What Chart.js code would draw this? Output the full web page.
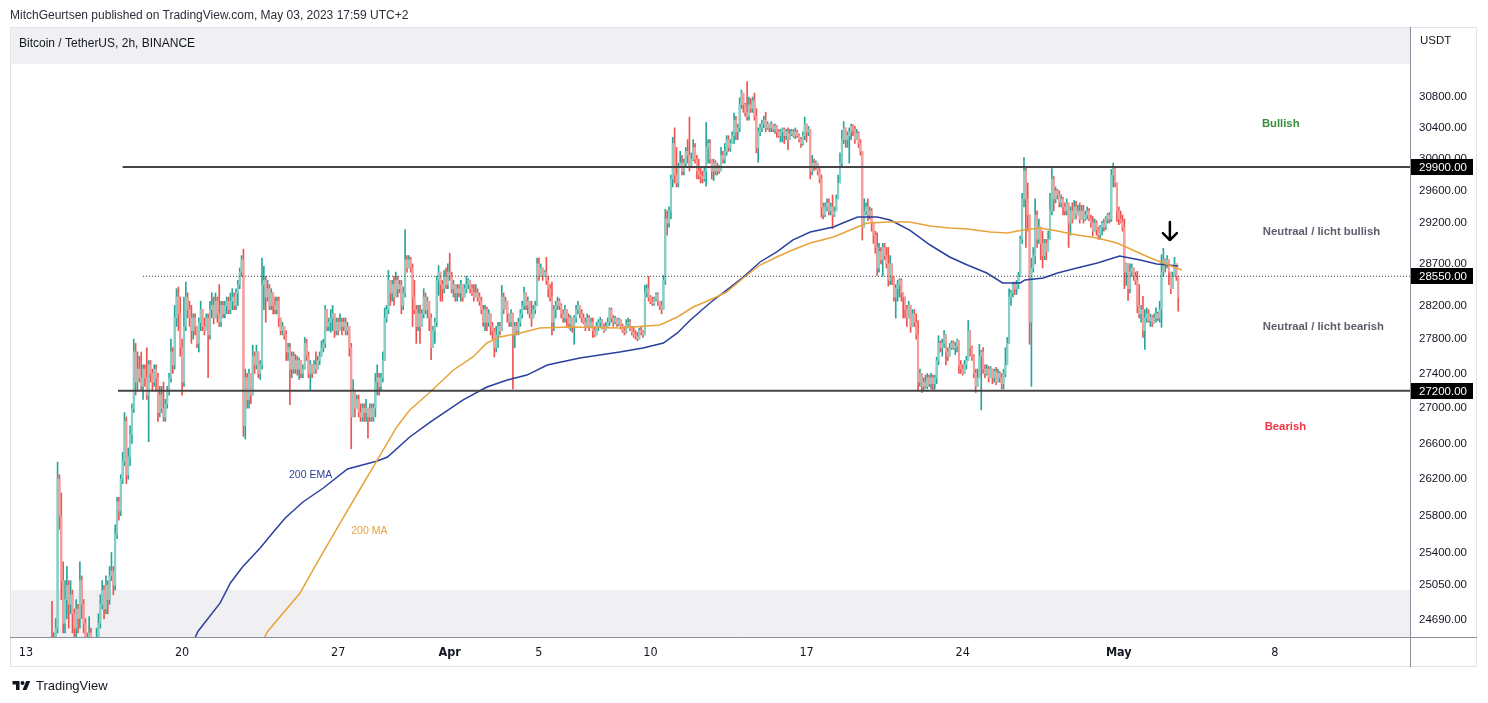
<!DOCTYPE html>
<html>
<head>
<meta charset="utf-8">
<title>BTCUSDT 2h</title>
<script src="https://cdn.jsdelivr.net/npm/chart.js@4.4.1/dist/chart.umd.min.js"></script>
<style>
  html, body { margin: 0; padding: 0; background: #fff; }
  body { width: 1488px; height: 703px; position: relative; overflow: hidden; font-family: "Liberation Sans", Arial, sans-serif; color: #131722; }
  #chart { position: absolute; left: 0; top: 0; }
  #published { position: absolute; left: 10px; top: 7px; font-size: 12px; line-height: 16px; color: #2a2e39; white-space: nowrap; }
  #brand { position: absolute; left: 12px; top: 677px; height: 16px; display: flex; align-items: center; font-size: 13px; color: #131722; }
  #brand svg { margin-right: 5px; }
</style>
</head>
<body>
<canvas id="chart" width="1488" height="703"></canvas>
<div id="published">MitchGeurtsen published on TradingView.com, May 03, 2023 17:59 UTC+2</div>
<div id="brand"><svg width="19" height="13" viewBox="0 0 36 26"><path d="M14 22H7V11H0V4h14v18zM28 22h-8l7.5-18h8L28 22z" fill="#131722"/><circle cx="20" cy="8" r="4" fill="#131722"/></svg>TradingView</div>
<script>
// time axis in hours since Mar 13 00:00
const tickHours = [0, 168, 336, 456, 552, 672, 840, 1008, 1176, 1344];
const tickLabels = ["13", "20", "27", "Apr", "5", "10", "17", "24", "May", "8"];
const boldLabels = ["Apr", "May"];
const priceTicks = [24690, 25050, 25400, 25800, 26200, 26600, 27000, 27400, 27800, 28200, 28700, 29200, 29600, 30000, 30400, 30800];

const xMinHour = -17.2;
const xMaxHour = 1489.4;
const priceMin = 24508;
const priceMax = 31726;

// 2h candles, first one Mar 14 00:00, open of each = close of the one before
const firstHour = 24;
const stepHours = 2;
const firstOpen = 24150;
const closes = [
  24250,24350,24250,24400,24600,26200,25800,25100,24650,24900,
  25050,24850,24950,24750,24600,24800,24700,25100,24850,24650,
  24450,24300,24550,24400,24250,24350,24500,24650,24850,25000,
  24800,25050,24900,25150,25200,25050,25600,25950,25850,26200,
  26400,26850,26250,26450,26700,27000,27650,27300,27450,27350,
  27250,27450,27350,27150,27500,27400,27300,27450,27350,26950,
  27150,27000,26900,27050,27200,27350,27650,27500,28050,28300,
  28100,27700,27300,27950,28300,28150,28050,27900,28050,27950,
  27750,28000,28150,27950,27900,28050,27850,28150,28200,28050,
  28250,28100,28000,28200,28100,28200,28250,28150,28250,28300,
  28200,28350,28450,28600,28750,26800,27350,27100,27400,27150,
  27600,27500,27650,27400,27500,28450,28500,28300,28400,28200,
  28350,28200,28150,28250,28050,27900,27950,27850,27650,27700,
  27450,27600,27450,27550,27450,27550,27400,27450,27750,27600,
  27400,27500,27400,27500,27450,27550,27600,27700,27750,28150,
  27950,28000,28050,28100,27900,28000,27900,28000,27950,28000,
  27900,27950,27700,26900,27200,27000,27100,26950,26900,27000,
  26950,27000,26900,27000,26900,27000,27300,27350,27250,27350,
  27550,28050,28150,28500,28350,28450,28300,28500,28400,28450,
  28200,28350,28750,28650,28750,28650,28300,28150,27950,28100,
  27950,28100,28300,28150,28250,28050,27700,27900,28000,28500,
  28600,28450,28400,28550,28450,28600,28550,28400,28450,28350,
  28400,28350,28450,28300,28400,28450,28500,28400,28350,28300,
  28350,28300,28250,28150,28000,28150,28000,28100,27950,27900,
  27700,27850,27950,27900,28300,28150,28250,28100,28000,28100,
  27850,27950,27900,28000,28100,28200,28350,28200,28250,28100,
  28050,28150,28200,28700,28550,28650,28550,28600,28500,28400,
  28300,28000,28150,28200,28250,28200,28100,28050,28150,28050,
  27980,28050,27950,28050,28150,28200,28100,28050,28000,27950,
  28050,27950,28000,27900,27850,27950,28000,28020,27950,27900,
  27950,28000,28150,28050,28000,28050,27980,28030,27950,27900,
  27880,27980,28000,27930,27880,27850,27830,27800,27900,27880,
  27850,28350,28400,28300,28250,28220,28280,28330,28250,28200,
  28150,28500,29250,29200,29350,29750,30200,29800,29700,29900,
  29950,29850,29950,30100,30050,29900,30000,30150,30000,29850,
  29800,29780,29750,29850,30150,30200,30000,29850,29950,29850,
  29900,29850,30050,30000,30100,30250,30150,30200,30300,30500,
  30350,30400,30700,30850,30700,30600,30550,30700,30650,30750,
  30550,30150,30350,30400,30450,30500,30400,30450,30400,30450,
  30380,30420,30350,30300,30350,30380,30300,30350,30250,30320,
  30350,30300,30350,30300,30250,30200,30300,30450,30350,30380,
  29850,29950,29900,29950,29850,29750,29400,29300,29400,29450,
  29350,29400,29300,29350,29500,29700,29950,30250,30400,30250,
  30300,30350,30420,30380,30250,30330,30200,30100,29150,29350,
  29400,29300,29350,29200,29050,28900,28650,28850,28750,28900,
  28800,28700,28500,28700,28550,28300,28400,28450,28500,28350,
  28300,28150,28050,28200,27950,28100,28000,27850,27300,27400,
  27250,27300,27250,27350,27280,27350,27280,27350,27550,27750,
  27700,27750,27850,27650,27600,27700,27750,27700,27720,27780,
  27500,27450,27400,27500,27550,27900,27700,27600,27400,27250,
  27350,27600,27650,27450,27400,27450,27350,27450,27350,27420,
  27300,27400,27350,27280,27400,27500,27750,28300,28350,28450,
  28400,28450,28550,29000,29500,29850,29500,29300,28000,28650,
  28800,29300,29000,29150,28950,28800,28950,28850,29000,29350,
  29750,29500,29600,29550,29450,29500,29400,29350,29450,29200,
  29350,29250,29400,29300,29350,29250,29350,29250,29300,29350,
  29250,29200,29100,29200,29120,29050,29150,29200,29150,29250,
  29300,29250,29800,29880,29700,29350,29250,29220,29150,28600,
  28700,28400,28600,28650,28550,28500,28200,28100,28150,27900,
  28050,28100,28020,28060,27990,28050,28100,28050,28150,28600,
  28750,28700,28750,28600,28400,28550,28700,28550,28300
];
const highs = [
  24400,24450,24880,24550,24700,26390,26250,26050,25300,25100,
  25250,25100,25100,25000,24800,24900,24850,25300,25150,24900,
  24700,24550,24720,24600,24450,24500,24600,24750,24950,25100,
  25050,25150,25100,25250,25400,25250,25700,26000,26000,26250,
  26500,26950,26900,26550,26800,27050,27800,27750,27650,27600,
  27650,27500,27500,27700,27550,27550,27450,27500,27500,27400,
  27250,27250,27300,27100,27250,27400,27800,27700,28200,28400,
  28420,28300,27800,28300,28480,28350,28250,28200,28100,28100,
  27950,28050,28250,28150,28050,28100,28100,28250,28350,28300,
  28350,28300,28450,28250,28250,28250,28300,28300,28350,28400,
  28350,28400,28500,28650,28800,28880,27450,27400,27450,27400,
  27730,27650,27730,27650,27550,28770,28670,28550,28500,28450,
  28400,28350,28300,28300,28300,28050,28000,27950,27900,27750,
  27750,27650,27650,27620,27600,27580,27550,27500,27820,27800,
  27650,27550,27500,27550,27650,27600,27650,27780,27800,28200,
  28100,28050,28150,28200,28100,28050,28050,28100,28050,28050,
  28050,28000,27950,27750,27330,27200,27150,27150,27050,27050,
  27050,27100,27000,27050,27050,27050,27400,27500,27400,27400,
  27650,28170,28200,28620,28500,28500,28550,28600,28550,28500,
  28500,28420,29120,28800,28800,28780,28700,28500,28200,28200,
  28200,28150,28400,28350,28300,28250,28100,27950,28050,28550,
  28680,28600,28500,28620,28650,28700,28830,28600,28500,28450,
  28450,28450,28500,28450,28450,28550,28520,28500,28450,28450,
  28450,28400,28350,28300,28200,28200,28180,28150,28100,28000,
  27930,27950,28000,28000,28440,28350,28300,28250,28100,28150,
  28110,28000,28000,28050,28150,28250,28420,28350,28300,28250,
  28250,28200,28250,28770,28770,28700,28650,28620,28780,28550,
  28450,28480,28200,28250,28300,28280,28220,28150,28200,28150,
  28100,28080,28050,28080,28200,28250,28200,28150,28100,28050,
  28100,28080,28050,28050,27950,28000,28030,28060,28030,27980,
  28000,28050,28170,28170,28080,28070,28050,28050,28030,27980,
  27950,28030,28050,28030,27950,27950,27900,27880,27930,27950,
  27900,28440,28450,28550,28320,28300,28300,28350,28350,28250,
  28250,28560,29370,29350,29400,29800,30280,30400,30150,29950,
  30100,30050,30000,30150,30250,30540,30080,30250,30200,30050,
  30000,29900,29850,29900,30470,30250,30250,30000,30000,29980,
  29950,29920,30150,30100,30200,30300,30300,30250,30350,30590,
  30550,30450,30790,30890,30850,30720,31000,30800,30780,30800,
  30850,30650,30400,30450,30500,30550,30600,30480,30450,30480,
  30450,30450,30430,30380,30380,30400,30400,30380,30400,30380,
  30380,30380,30400,30370,30320,30280,30350,30540,30450,30420,
  30350,30050,30000,29980,29950,29880,29800,29450,29450,29500,
  29500,29450,29550,29400,29550,29800,30080,30370,30480,30400,
  30350,30400,30450,30440,30420,30380,30350,30250,30100,29500,
  29450,29500,29400,29380,29150,29100,29080,28950,28900,28950,
  28950,28900,28900,28800,28650,28550,28450,28500,28520,28520,
  28350,28300,28200,28250,28170,28150,28150,28100,28020,27450,
  27400,27350,27380,27400,27380,27400,27380,27380,27590,27840,
  27780,27800,27900,27850,27700,27750,27780,27780,27760,27800,
  27780,27550,27500,27550,27600,28020,27900,27720,27620,27450,
  27450,27740,27670,27700,27500,27500,27480,27480,27450,27450,
  27470,27450,27420,27400,27450,27700,27820,28400,28380,28480,
  28480,28500,28600,29040,29570,30020,29890,29700,29210,28770,
  28900,29500,29350,29250,29150,29100,29000,29000,29100,29570,
  29880,29780,29650,29620,29600,29550,29520,29450,29500,29400,
  29400,29450,29480,29470,29420,29450,29420,29420,29350,29400,
  29380,29300,29280,29250,29230,29150,29170,29220,29250,29280,
  29320,29330,29870,29950,29900,29700,29400,29350,29300,29250,
  28710,28690,28700,28700,28650,28600,28610,28450,28200,28310,
  28150,28170,28150,28100,28080,28100,28170,28120,28250,28810,
  28890,28760,28800,28750,28600,28600,28780,28700,28550
];
const lows = [
  24100,24200,24150,24200,24350,24550,25650,24900,24550,24550,
  24700,24600,24750,24550,24450,24500,24550,24600,24700,24550,
  24300,24150,24250,24200,24050,24150,24250,24400,24600,24800,
  24700,24750,24750,24850,25100,24950,25000,25550,25750,25800,
  26150,26350,26150,26200,26350,26600,26950,27150,27200,27300,
  27200,27100,27250,27100,26620,27300,27200,27250,27200,26850,
  26900,26950,26850,26850,27000,27150,27300,27400,27450,27950,
  27900,27600,27150,27250,27900,28050,27950,27750,27800,27850,
  27700,27650,27900,27900,27850,27900,27350,27800,28050,27980,
  28100,28000,27950,27950,28050,28050,28100,28100,28100,28150,
  28150,28150,28200,28400,28550,26680,26650,27000,27000,27050,
  27200,27400,27450,27350,27330,27450,28150,28000,28250,28150,
  28150,28100,28100,28100,27950,27850,27850,27800,27550,27550,
  27040,27350,27400,27400,27380,27330,27350,27350,27450,27550,
  27350,27200,27350,27400,27400,27450,27500,27600,27650,27700,
  27900,27900,27880,27900,27820,27850,27850,27900,27850,27900,
  27850,27850,27600,26540,26900,26900,27000,26900,26850,26850,
  26850,26850,26660,26850,26850,26850,26900,27150,27150,27200,
  27300,27550,28000,28100,28200,28250,28200,28300,28300,28350,
  28100,28150,28300,28600,28650,28600,27950,28100,27750,27900,
  27750,27950,28050,28100,28050,27900,27560,27700,27750,27950,
  28320,28250,28250,28350,28400,28400,28500,28350,28300,28250,
  28250,28300,28250,28250,28300,28350,28400,28350,28320,28250,
  28300,28250,28200,28100,27950,27900,27900,27950,27850,27800,
  27590,27650,27700,27850,27900,28100,28150,28000,27950,27950,
  27220,27700,27850,27850,27950,28050,28150,28150,28100,28050,
  27950,28050,28100,28200,28500,28550,28500,28550,28450,28300,
  28250,27850,27900,28050,28150,28150,28050,28000,28000,27950,
  27930,27900,27880,27740,28000,28100,28050,28000,27980,27900,
  27950,27900,27950,27820,27830,27850,27900,27950,27920,27880,
  27900,27950,27960,28000,27950,27980,27950,27960,27920,27880,
  27850,27870,27950,27900,27850,27820,27800,27780,27800,27850,
  27820,27850,28300,28250,28220,28200,28200,28250,28200,28150,
  28100,28150,28450,29050,29150,29250,29650,29700,29650,29650,
  29900,29800,29800,29900,29950,29850,29900,29980,29950,29750,
  29750,29700,29700,29720,29660,29950,29950,29750,29730,29800,
  29800,29820,29850,29950,29950,30050,30100,30100,30200,30200,
  30250,30250,30350,30650,30600,30550,30500,30500,30600,30600,
  30500,30080,29960,30300,30350,30400,30350,30380,30350,30350,
  30350,30330,30280,30280,30220,30220,30200,30250,30120,30250,
  30300,30280,30260,30280,30220,30150,30180,30250,30220,30300,
  29750,29800,29850,29870,29800,29700,29270,29250,29280,29350,
  29300,29300,29130,29280,29350,29500,29700,29900,30200,30150,
  30150,29950,30250,30300,30200,30250,30150,30050,28990,29150,
  29300,29230,29250,29100,28950,28830,28560,28600,28700,28550,
  28750,28650,28430,28450,28450,28250,28050,28250,28300,28250,
  28050,28050,27950,28050,27880,27950,27950,27800,27200,27250,
  27180,27200,27230,27220,27250,27220,27200,27220,27280,27500,
  27650,27600,27700,27500,27550,27600,27680,27680,27620,27650,
  27400,27400,27380,27400,27450,27550,27600,27550,27350,27180,
  27250,27350,26980,27400,27350,27380,27300,27350,27280,27300,
  27270,27300,27300,27220,27220,27360,27500,27950,28200,28300,
  28330,28330,28400,28550,28950,29400,28900,29100,27740,27250,
  28600,28700,28900,28950,28750,28650,28750,28750,28850,29000,
  29300,29350,29450,29500,29400,29400,29300,29300,29300,28900,
  29050,29200,29350,29250,29300,29200,29300,29200,29230,29250,
  29230,29150,29040,29100,29050,29000,29000,29050,29100,29120,
  29200,29200,29220,29650,29650,29220,29180,29200,29100,28400,
  28440,28260,28350,28550,28500,28450,28110,28050,28000,27820,
  27680,28000,28000,27950,27950,27990,28000,28020,28000,27940,
  28550,28600,28650,28450,28340,28400,28550,28500,28130
];

// moving averages
const emaHours = [176,185,209,220,233,252,268,279,298,320,346,378,389,413,435,470,496,518,539,561,596,639,664,686,701,715,736,754,772,790,808,825,844,869,879,895,916,930,951,973,994,1013,1034,1051,1070,1075,1095,1110,1131,1153,1177,1199,1217,1240];
const emaValues = [24370,24566,24864,25075,25245,25448,25643,25774,25949,26103,26314,26403,26448,26673,26842,27093,27243,27324,27381,27498,27579,27649,27696,27755,27873,28026,28229,28384,28541,28723,28845,28991,29090,29151,29201,29275,29275,29238,29114,28930,28784,28686,28589,28469,28469,28505,28529,28589,28650,28711,28796,28747,28699,28674];
const maHours = [250,260,295,313,338,359,378,399,413,435,460,481,496,510,532,553,585,639,682,701,718,736,754,772,790,808,825,844,869,887,905,930,951,973,994,1013,1038,1056,1073,1091,1110,1131,1153,1174,1191,1210,1224,1244];
const maValues = [24373,24566,24969,25287,25719,26081,26414,26786,26979,27185,27440,27591,27755,27825,27873,27931,27943,27931,27967,28062,28181,28265,28360,28529,28686,28784,28869,28955,29028,29114,29201,29213,29213,29164,29139,29127,29090,29077,29114,29139,29102,29053,29016,28955,28869,28772,28711,28626];

// drawn levels
const levelPrices = [29900, 28550, 27200];
const levelStartHours = [104, 126, 99];
const levelDotted = [false, true, false];

const noteTexts = ["Bullish", "Neutraal / licht bullish", "Neutraal / licht bearish", "Bearish", "200 EMA", "200 MA"];
const noteHours = [1330, 1331, 1331, 1333, 283, 350];
const notePrices = [30450, 29090, 27943, 26786, 26247, 25632];
const noteColors = ["#388e3c", "#5d606b", "#5d606b", "#f23645", "#2a3f9f", "#e8a33a"];
const noteBold = [true, true, true, true, false, false];

const arrowHour = 1231;
const arrowPrices = [29213, 28991];

const bandTop = 31233;
const bandBottom = 25000;

const sans = "'Liberation Sans', Arial, sans-serif";
const narrow = "'Liberation Sans Narrow', 'DejaVu Sans Condensed', sans-serif";

let bodies = [], wicks = [], bodyColors = [], wickColors = [];
for (let i = 0; i < closes.length; i++) {
  let o = i == 0 ? firstOpen : closes[i - 1];
  let c = closes[i];
  let t = firstHour + i * stepHours;
  bodies.push({x: t, y: [o, c]});
  wicks.push({x: t, y: [Math.min(lows[i], o, c), Math.max(highs[i], o, c)]});
  bodyColors.push(c >= o ? "#86d0c6" : "#f59e9c");
  wickColors.push(c >= o ? "#26a69a" : "#ef5350");
}

// lower order is drawn on top: levels, then averages, then bodies over wicks
let datasets = [
  {type: "bar", data: bodies, backgroundColor: bodyColors, barThickness: 1.4, minBarLength: 1, grouped: false, order: 2},
  {type: "bar", data: wicks, backgroundColor: wickColors, barThickness: 1, grouped: false, order: 3},
  {type: "line", data: maHours.map((h, i) => ({x: h, y: maValues[i]})), borderColor: "#e8a33a", borderWidth: 1.5, pointRadius: 0, order: 1},
  {type: "line", data: emaHours.map((h, i) => ({x: h, y: emaValues[i]})), borderColor: "#2a3f9f", borderWidth: 1.5, pointRadius: 0, order: 1}
];
for (let k = 0; k < levelPrices.length; k++) {
  datasets.push({
    type: "line",
    data: [{x: levelStartHours[k], y: levelPrices[k]}, {x: xMaxHour, y: levelPrices[k]}],
    borderColor: levelDotted[k] ? "#333" : "#454545",
    borderWidth: levelDotted[k] ? 1 : 2,
    borderDash: levelDotted[k] ? [1, 2] : [],
    pointRadius: 0,
    order: 0
  });
}

const decor = {
  id: "decor",
  beforeDatasetsDraw(chart) {
    const {ctx, chartArea: a, scales: {y}} = chart;
    ctx.save();
    ctx.fillStyle = "#f0f0f3";
    let t = y.getPixelForValue(bandTop);
    ctx.fillRect(a.left, a.top, a.right - a.left, t - a.top);
    let b = y.getPixelForValue(bandBottom);
    ctx.fillRect(a.left, b, a.right - a.left, a.bottom - b);
    ctx.fillStyle = "#131722";
    ctx.font = "12px " + sans;
    ctx.textBaseline = "middle";
    ctx.fillText("Bitcoin / TetherUS, 2h, BINANCE", a.left + 9, 44);
    ctx.restore();
  },
  afterDatasetsDraw(chart) {
    const {ctx, scales: {x, y}} = chart;
    ctx.save();
    ctx.textBaseline = "middle";
    ctx.textAlign = "left";
    for (let i = 0; i < noteTexts.length; i++) {
      ctx.fillStyle = noteColors[i];
      ctx.font = (noteBold[i] ? "bold 11.3px " : "10.5px ") + sans;
      ctx.fillText(noteTexts[i], x.getPixelForValue(noteHours[i]), y.getPixelForValue(notePrices[i]));
    }
    let ax = x.getPixelForValue(arrowHour);
    let ay0 = y.getPixelForValue(arrowPrices[0]);
    let ay1 = y.getPixelForValue(arrowPrices[1]);
    ctx.strokeStyle = "#000";
    ctx.lineWidth = 2.5;
    ctx.lineCap = "round";
    ctx.lineJoin = "round";
    ctx.beginPath();
    ctx.moveTo(ax, ay0);
    ctx.lineTo(ax, ay1);
    ctx.moveTo(ax - 7, ay1 - 7);
    ctx.lineTo(ax, ay1);
    ctx.lineTo(ax + 7, ay1 - 7);
    ctx.stroke();
    ctx.restore();
  },
  afterDraw(chart) {
    const {ctx, chartArea: a, scales: {x, y}} = chart;
    ctx.save();
    ctx.strokeStyle = "#e0e3eb";
    ctx.lineWidth = 1;
    ctx.strokeRect(a.left + 0.5, a.top + 0.5, y.right - a.left - 1, x.bottom - a.top - 1);
    ctx.strokeStyle = "#8c8f99";
    ctx.beginPath();
    ctx.moveTo(a.right + 0.5, a.top);
    ctx.lineTo(a.right + 0.5, x.bottom);
    ctx.moveTo(a.left, a.bottom + 0.5);
    ctx.lineTo(y.right, a.bottom + 0.5);
    ctx.stroke();
    ctx.textBaseline = "middle";
    ctx.textAlign = "left";
    ctx.fillStyle = "#131722";
    ctx.font = "11.5px " + sans;
    ctx.fillText("USDT", a.right + 10, 41);
    for (let k = 0; k < levelPrices.length; k++) {
      let py = Math.round(y.getPixelForValue(levelPrices[k]));
      ctx.fillStyle = "#000";
      ctx.fillRect(a.right + 1, py - 8, 62, 16);
      ctx.fillStyle = "#fff";
      ctx.fillText(levelPrices[k].toFixed(2), a.right + 9, py + 0.5);
    }
    ctx.restore();
  }
};

new Chart(document.getElementById("chart"), {
  type: "bar",
  data: {datasets: datasets},
  plugins: [decor],
  options: {
    responsive: false,
    animation: false,
    devicePixelRatio: 1,
    events: [],
    layout: {padding: {left: 10, top: 27, right: 11, bottom: 36}},
    plugins: {legend: {display: false}, tooltip: {enabled: false}},
    scales: {
      x: {
        type: "linear",
        min: xMinHour,
        max: xMaxHour,
        offset: false,
        grid: {display: false, drawTicks: false, offset: false},
        border: {display: false},
        afterBuildTicks: s => { s.ticks = tickHours.map(v => ({value: v})); },
        afterFit: s => { s.height = 30; },
        ticks: {
          autoSkip: false,
          maxRotation: 0,
          padding: 8,
          color: "#131722",
          callback: v => tickLabels[tickHours.indexOf(v)],
          font: ctx => ({
            family: narrow,
            size: 12.5,
            weight: ctx.tick && boldLabels.includes(tickLabels[tickHours.indexOf(ctx.tick.value)]) ? "bold" : "normal"
          })
        }
      },
      y: {
        type: "logarithmic",
        position: "right",
        min: priceMin,
        max: priceMax,
        bounds: "data",
        beginAtZero: false,
        grid: {display: false, drawTicks: false},
        border: {display: false},
        afterBuildTicks: s => { s.ticks = priceTicks.map(v => ({value: v})); },
        afterFit: s => { s.width = 67; },
        ticks: {
          autoSkip: false,
          padding: 9,
          color: "#131722",
          font: {family: sans, size: 11.5},
          callback: v => Number(v).toFixed(2)
        }
      }
    }
  }
});
</script>
</body>
</html>
